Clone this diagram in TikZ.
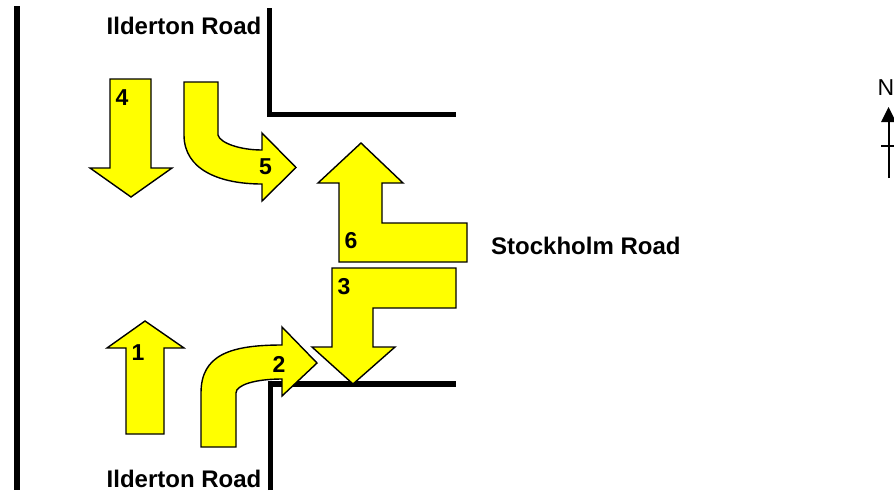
\documentclass[tikz,border=0pt]{standalone}
\usepackage{fontspec}
\setmainfont{Liberation Sans}
\definecolor{flowy}{RGB}{255,255,0}
\tikzset{
  road/.style={line width=5.5pt,black,line cap=butt,line join=miter},
  flow/.style={draw=black,fill=flowy,line width=1.4pt,line join=miter},
  lab/.style={font=\bfseries\fontsize{23}{25}\selectfont,inner sep=0pt,anchor=center},
  road label/.style={font=\bfseries\fontsize{24}{26}\selectfont,inner sep=0pt,anchor=center}
}
\begin{document}
\begin{tikzpicture}[x=1pt,y=-1pt]
\useasboundingbox (0,0) rectangle (894,493);
% roads
\coordinate (w1) at (17,6); \coordinate (w2) at (17,490);
\draw[road,line width=6pt] (w1) -- (w2);
\coordinate (n1) at (269.5,8); \coordinate (n2) at (269.5,114.5); \coordinate (n3) at (456,114.5);
\draw[road] (n1) -- (n2) -- (n3);
\coordinate (s1) at (270.5,490); \coordinate (s2) at (270.5,384); \coordinate (s3) at (456,384);
\draw[road] (s1) -- (s2) -- (s3);
% arrows
\draw[flow] (110,79) -- (151,79) -- (151,168) -- (172,168) -- (131,197) -- (90,168) -- (110,168) -- cycle;
\draw[flow] (184,82) -- (218,82) -- (218,135) .. controls (220,143) and (240,150) .. (262,150) -- (262,133) -- (296,167.5) -- (262,201) -- (262,184) .. controls (220,184) and (184,170) .. (184,135) -- cycle;
\draw[flow] (126,434) -- (164,434) -- (164,348) -- (184,348) -- (145,321) -- (107,348) -- (126,348) -- cycle;
\draw[flow] (201,447) -- (236,447) -- (236,393) .. controls (236,385) and (255,379) .. (282,379) -- (282,396) -- (317,363) -- (282,327) -- (282,345) .. controls (230,345) and (201,355) .. (201,393) -- cycle;
\draw[flow] (361,143) -- (403,183) -- (382,183) -- (382,223) -- (467,223) -- (467,262) -- (339,262) -- (339,183) -- (318,183) -- cycle;
\draw[flow] (332,268) -- (456,268) -- (456,308) -- (373,308) -- (373,347) -- (395,347) -- (353,384) -- (312,347) -- (332,347) -- cycle;
% numbers
\node[lab] (l4) at (122,98) {4};
\node[lab] (l5) at (265.5,167) {5};
\node[lab] (l1) at (138,353) {1};
\node[lab] (l2) at (279,364) {2};
\node[lab] (l6) at (351,241) {6};
\node[lab] (l3) at (344,287) {3};
% road names
\node[road label] (t1) at (184,26) {Ilderton Road};
\node[road label] (t2) at (184,479) {Ilderton Road};
\node[road label,anchor=west] (t3) at (491,246) {Stockholm Road};
% north
\node[font=\fontsize{23}{25}\selectfont,inner sep=0pt] (north) at (886,88) {N};
\coordinate (nb) at (888.5,178); \coordinate (nt) at (888.5,107);
\coordinate (tl) at (881,146); \coordinate (tr) at (895,146);
\draw[line width=2pt] (nb) -- (888.5,120);
\fill (nt) -- (896,122) -- (881,122) -- cycle;
\draw[line width=1.2pt] (tl) -- (tr);
\end{tikzpicture}
\end{document}
